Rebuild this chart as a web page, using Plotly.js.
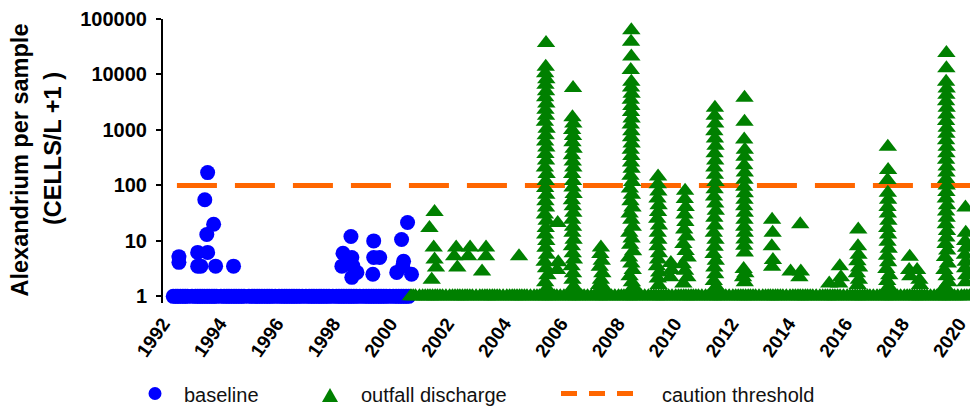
<!DOCTYPE html>
<html>
<head>
<meta charset="utf-8">
<script src="https://cdn.plot.ly/plotly-3.0.1.min.js"></script>
<style>html,body{margin:0;padding:0;background:#fff;}#chart{width:970px;height:408px;}</style>
</head>
<body>
<div id="chart"></div>
<script>
// ---------- tick labels ----------
const xTickYears = [1992, 1994, 1996, 1998, 2000, 2002, 2004, 2006, 2008, 2010, 2012, 2014, 2016, 2018, 2020];
const xTickText = ['1992', '1994', '1996', '1998', '2000', '2002', '2004', '2006', '2008', '2010', '2012', '2014', '2016', '2018', '2020'];
const yTickVals = [1, 10, 100, 1000, 10000, 100000];
const yTickText = ['1', '10', '100', '1000', '10000', '100000'];

// ---------- baseline (1992-2000) ----------
const baselineNonDetectDates = [1992.36, 1992.45, 1992.52, 1992.61, 1992.70, 1992.78, 1992.86, 1993.02, 1993.14, 1993.22, 1993.30, 1993.38, 1993.46, 1993.55, 1993.63, 1993.72, 1993.80, 1993.88, 1994.04, 1994.15, 1994.24, 1994.32, 1994.41, 1994.50, 1994.58, 1994.67, 1994.76, 1994.85, 1995.02, 1995.13, 1995.22, 1995.31, 1995.39, 1995.48, 1995.57, 1995.66, 1995.74, 1995.83, 1995.95, 1996.08, 1996.18, 1996.27, 1996.35, 1996.44, 1996.53, 1996.61, 1996.70, 1996.79, 1996.90, 1997.03, 1997.14, 1997.23, 1997.31, 1997.40, 1997.49, 1997.57, 1997.66, 1997.75, 1997.84, 1997.97, 1998.10, 1998.19, 1998.28, 1998.36, 1998.45, 1998.54, 1998.62, 1998.71, 1998.80, 1998.92, 1999.05, 1999.15, 1999.24, 1999.33, 1999.41, 1999.50, 1999.59, 1999.67, 1999.76, 1999.85, 1999.97, 2000.10, 2000.20, 2000.29, 2000.38, 2000.46, 2000.55, 2000.64];
const baselineDetectDates = [1992.56, 1992.56, 1993.22, 1993.22, 1993.33, 1993.47, 1993.54, 1993.57, 1993.57, 1993.78, 1993.85, 1994.48, 1998.29, 1998.33, 1998.61, 1998.64, 1998.68, 1998.64, 1998.82, 1999.38, 1999.41, 1999.41, 1999.62, 2000.22, 2000.39, 2000.43, 2000.46, 2000.60, 2000.74];
const baselineDetectValues = [5.2, 4.1, 6.2, 3.5, 3.5, 55, 13, 170, 6.2, 20, 3.5, 3.5, 3.5, 6, 12, 5, 3.5, 2.2, 2.7, 2.5, 10, 5, 5, 2.7, 10.6, 3.5, 4.3, 21.5, 2.5];

// ---------- outfall discharge (2000-2020) ----------
const outfallNonDetectDates = [2000.72, 2000.80, 2000.88, 2001.02, 2001.13, 2001.22, 2001.31, 2001.39, 2001.48, 2001.57, 2001.65, 2001.74, 2001.83, 2001.95, 2002.08, 2002.18, 2002.27, 2002.36, 2002.44, 2002.53, 2002.62, 2002.70, 2002.79, 2002.88, 2003.01, 2003.14, 2003.23, 2003.32, 2003.40, 2003.49, 2003.58, 2003.66, 2003.75, 2003.84, 2003.96, 2004.09, 2004.19, 2004.28, 2004.36, 2004.45, 2004.54, 2004.62, 2004.71, 2004.80, 2004.92, 2005.05, 2005.15, 2005.24, 2005.33, 2005.41, 2005.50, 2005.59, 2005.67, 2005.76, 2005.85, 2005.97, 2006.10, 2006.20, 2006.29, 2006.37, 2006.46, 2006.55, 2006.63, 2006.72, 2006.81, 2006.93, 2007.06, 2007.16, 2007.25, 2007.33, 2007.42, 2007.51, 2007.59, 2007.68, 2007.77, 2007.89, 2008.02, 2008.12, 2008.21, 2008.30, 2008.38, 2008.47, 2008.56, 2008.64, 2008.73, 2008.82, 2008.94, 2009.07, 2009.17, 2009.26, 2009.34, 2009.43, 2009.52, 2009.60, 2009.69, 2009.78, 2009.90, 2010.03, 2010.13, 2010.22, 2010.31, 2010.39, 2010.48, 2010.57, 2010.65, 2010.74, 2010.83, 2010.95, 2011.08, 2011.18, 2011.27, 2011.35, 2011.44, 2011.53, 2011.61, 2011.70, 2011.79, 2011.91, 2012.04, 2012.14, 2012.23, 2012.32, 2012.40, 2012.49, 2012.58, 2012.66, 2012.75, 2012.84, 2012.96, 2013.09, 2013.19, 2013.28, 2013.36, 2013.45, 2013.54, 2013.62, 2013.71, 2013.80, 2013.92, 2014.05, 2014.15, 2014.24, 2014.33, 2014.41, 2014.50, 2014.59, 2014.67, 2014.76, 2014.85, 2014.97, 2015.10, 2015.20, 2015.29, 2015.37, 2015.46, 2015.55, 2015.63, 2015.72, 2015.81, 2015.93, 2016.06, 2016.16, 2016.25, 2016.34, 2016.42, 2016.51, 2016.60, 2016.68, 2016.77, 2016.86, 2016.98, 2017.11, 2017.21, 2017.30, 2017.38, 2017.47, 2017.56, 2017.64, 2017.73, 2017.82, 2017.94, 2018.07, 2018.17, 2018.26, 2018.35, 2018.43, 2018.52, 2018.61, 2018.69, 2018.78, 2018.87, 2018.99, 2019.12, 2019.22, 2019.31, 2019.39, 2019.48, 2019.57, 2019.65, 2019.74, 2019.83, 2019.95, 2020.08, 2020.18, 2020.27, 2020.36];

const bloom2001Dates = [2001.37, 2001.55, 2001.52, 2001.55, 2001.60, 2001.45];
const bloom2001Values = [17, 33, 7.6, 4.6, 3.3, 2.0];
const bloom2002Dates = [2002.31, 2002.24, 2002.35, 2002.80, 2002.73, 2003.22, 2003.36, 2003.36, 2004.52];
const bloom2002Values = [7.6, 5.3, 3.3, 7.6, 5.3, 2.8, 7.6, 5.3, 5.3];
const bloom2005Dates = [2005.47, 2005.46, 2005.44, 2005.48, 2005.45, 2005.47, 2005.44, 2005.48, 2005.45, 2005.47, 2005.43, 2005.49, 2005.46, 2005.44, 2005.48, 2005.45, 2005.47, 2005.43, 2005.49, 2005.46, 2005.44, 2005.48, 2005.45, 2005.47, 2005.43, 2005.49, 2005.46, 2005.44, 2005.48, 2005.45, 2005.50, 2005.42, 2005.47, 2005.52, 2005.44, 2005.50, 2005.88, 2005.90, 2005.86];
const bloom2005Values = [37000, 13800, 10500, 8200, 6500, 5000, 3900, 3000, 2300, 1800, 1400, 1050, 800, 620, 480, 370, 280, 210, 160, 120, 90, 68, 52, 40, 30, 23, 17, 13, 10, 7.5, 5.6, 4.2, 3.2, 2.4, 1.8, 1.4, 21, 4.1, 3.0];
const bloom2006Dates = [2006.42, 2006.40, 2006.43, 2006.39, 2006.42, 2006.40, 2006.44, 2006.38, 2006.41, 2006.43, 2006.39, 2006.42, 2006.40, 2006.44, 2006.38, 2006.41, 2006.43, 2006.39, 2006.42, 2006.40, 2006.44, 2006.38, 2006.41, 2006.45, 2006.37, 2006.42, 2006.40, 2006.44];
const bloom2006Values = [5700, 1700, 1300, 1000, 780, 600, 460, 350, 270, 210, 160, 120, 92, 70, 54, 42, 32, 24, 18, 14, 10.5, 8, 6, 4.6, 3.5, 2.6, 2.0, 1.5];
const bloom2007Dates = [2007.40, 2007.38, 2007.43, 2007.36, 2007.45, 2007.40, 2007.34, 2007.47];
const bloom2007Values = [7.6, 5.8, 4.4, 3.4, 2.6, 2.0, 1.6, 1.5];
const bloom2008Dates = [2008.47, 2008.46, 2008.47, 2008.45, 2008.47, 2008.46, 2008.48, 2008.45, 2008.47, 2008.46, 2008.48, 2008.45, 2008.47, 2008.46, 2008.48, 2008.45, 2008.47, 2008.46, 2008.48, 2008.44, 2008.50, 2008.42, 2008.49, 2008.44, 2008.51, 2008.41, 2008.47, 2008.52, 2008.40, 2008.48, 2008.43, 2008.53, 2008.39, 2008.47, 2008.52, 2008.41, 2008.49, 2008.55];
const bloom2008Values = [63000, 39000, 21000, 12000, 7400, 5800, 4500, 3500, 2700, 2100, 1600, 1250, 950, 740, 570, 440, 340, 260, 200, 150, 115, 88, 68, 52, 40, 31, 24, 18, 14, 11, 8.5, 6.5, 5, 3.9, 3, 2.3, 1.8, 1.5];
const bloom2009Dates = [2009.41, 2009.40, 2009.42, 2009.39, 2009.43, 2009.41, 2009.38, 2009.44, 2009.40, 2009.42, 2009.39, 2009.44, 2009.41, 2009.37, 2009.45, 2009.40, 2009.43, 2009.86, 2009.88, 2009.84];
const bloom2009Values = [145, 105, 78, 58, 44, 33, 25, 19, 14, 10.5, 8, 6, 4.6, 3.5, 2.7, 2.1, 1.6, 4.0, 3.0, 2.2];
const bloom2010Dates = [2010.36, 2010.35, 2010.38, 2010.34, 2010.37, 2010.33, 2010.40, 2010.30, 2010.38, 2010.45, 2010.28, 2010.36, 2010.44, 2010.30];
const bloom2010Values = [80, 57, 41, 30, 22, 16, 12, 8.8, 6.6, 5.0, 3.8, 2.9, 2.2, 1.7];
const bloom2011Dates = [2011.41, 2011.40, 2011.42, 2011.39, 2011.41, 2011.43, 2011.40, 2011.42, 2011.39, 2011.41, 2011.43, 2011.40, 2011.38, 2011.42, 2011.44, 2011.39, 2011.41, 2011.37, 2011.43, 2011.40, 2011.36, 2011.44, 2011.39, 2011.42, 2011.37, 2011.45];
const bloom2011Values = [2500, 1800, 1300, 950, 700, 520, 380, 280, 210, 155, 115, 85, 63, 47, 35, 26, 19, 14, 10.5, 7.8, 5.8, 4.4, 3.3, 2.5, 1.9, 1.5];
const bloom2012Dates = [2012.45, 2012.45, 2012.44, 2012.46, 2012.45, 2012.44, 2012.46, 2012.45, 2012.44, 2012.46, 2012.45, 2012.44, 2012.46, 2012.45, 2012.44, 2012.46, 2012.45, 2012.44, 2012.46, 2012.42, 2012.48, 2012.40, 2012.46];
const bloom2012Values = [3800, 1400, 670, 440, 330, 230, 170, 126, 95, 72, 55, 42, 32, 24, 18, 14, 10.6, 8.2, 6.2, 3.1, 2.6, 2.2, 1.8];
const bloom2013Dates = [2013.42, 2013.44, 2013.41, 2013.45, 2013.42, 2014.07, 2014.41, 2014.43, 2014.38, 2015.43, 2015.80, 2015.84, 2015.78];
const bloom2013Values = [24, 14, 8, 4.5, 3.4, 2.8, 20, 2.8, 2.2, 1.7, 3.5, 2.2, 1.7];
const bloom2016Dates = [2016.45, 2016.44, 2016.46, 2016.42, 2016.48, 2016.40, 2016.47, 2016.43];
const bloom2016Values = [16, 8, 5.6, 4.3, 3.3, 2.6, 2.0, 1.6];
const bloom2017Dates = [2017.49, 2017.50, 2017.48, 2017.49, 2017.50, 2017.48, 2017.49, 2017.51, 2017.47, 2017.50, 2017.48, 2017.52, 2017.46, 2017.50, 2017.44, 2017.54, 2017.47, 2017.52];
const bloom2017Values = [500, 190, 125, 74, 55, 41, 31, 23, 17, 13, 9.6, 7.2, 5.4, 4.1, 3.1, 2.4, 1.9, 1.5];
const bloom2018Dates = [2018.26, 2018.24, 2018.28, 2018.52, 2018.60, 2018.62];
const bloom2018Values = [5.2, 3.0, 2.3, 3.0, 2.0, 1.6];
const bloom2019Dates = [2019.55, 2019.55, 2019.54, 2019.56, 2019.55, 2019.54, 2019.56, 2019.55, 2019.54, 2019.56, 2019.55, 2019.54, 2019.56, 2019.55, 2019.54, 2019.56, 2019.55, 2019.54, 2019.56, 2019.55, 2019.53, 2019.57, 2019.54, 2019.56, 2019.53, 2019.57, 2019.55, 2019.52, 2019.58, 2019.50, 2019.60, 2019.48, 2019.56, 2019.62, 2019.50];
const bloom2019Values = [24500, 13000, 7400, 5600, 4300, 3300, 2500, 1900, 1450, 1100, 850, 650, 500, 380, 290, 220, 170, 130, 100, 76, 58, 44, 34, 26, 20, 15, 11.5, 8.8, 6.7, 5.1, 3.9, 3.0, 2.3, 1.8, 1.5];
const bloom2020Dates = [2020.22, 2020.23, 2020.21, 2020.24, 2020.20, 2020.23, 2020.21, 2020.25, 2020.22];
const bloom2020Values = [40, 14, 10, 7.5, 5.6, 4.2, 3.2, 2.4, 1.8];

// ---------- caution threshold ----------
const thresholdDates = [1992.49, 2020.5];
const thresholdValues = [100, 100];

// samples with no cells counted plot at 0 + 1 = 1
const NON_DETECT = 1;

const outfallDetectDates = [].concat(bloom2001Dates, bloom2002Dates, bloom2005Dates, bloom2006Dates, bloom2007Dates, bloom2008Dates, bloom2009Dates, bloom2010Dates, bloom2011Dates, bloom2012Dates, bloom2013Dates, bloom2016Dates, bloom2017Dates, bloom2018Dates, bloom2019Dates, bloom2020Dates);
const outfallDetectValues = [].concat(bloom2001Values, bloom2002Values, bloom2005Values, bloom2006Values, bloom2007Values, bloom2008Values, bloom2009Values, bloom2010Values, bloom2011Values, bloom2012Values, bloom2013Values, bloom2016Values, bloom2017Values, bloom2018Values, bloom2019Values, bloom2020Values);

const BLUE = '#0000FF', GREEN = '#008000', ORANGE = '#FF6600';
const FONT = 'Liberation Sans, Arial, Helvetica, sans-serif';

const traces = [
  {x: thresholdDates, y: thresholdValues, mode: 'lines', name: 'caution threshold',
   line: {color: ORANGE, width: 5, dash: '40px,18px'}, hoverinfo: 'skip'},
  {x: baselineNonDetectDates, y: baselineNonDetectDates.map(() => NON_DETECT), mode: 'markers', name: 'baseline',
   marker: {symbol: 'circle', size: 15, color: BLUE}, cliponaxis: false},
  {x: baselineDetectDates, y: baselineDetectValues, mode: 'markers', name: 'baseline',
   marker: {symbol: 'circle', size: 15, color: BLUE}, cliponaxis: false},
  {x: outfallNonDetectDates, y: outfallNonDetectDates.map(() => NON_DETECT), mode: 'markers', name: 'outfall discharge',
   marker: {symbol: 'triangle-up', size: 16, color: GREEN}, cliponaxis: false},
  {x: outfallDetectDates, y: outfallDetectValues, mode: 'markers', name: 'outfall discharge',
   marker: {symbol: 'triangle-up', size: 16, color: GREEN}, cliponaxis: false}
];

// pixel helpers relative to plot area (left = 163, bottom = 303)
const PL = 163, PB = 303;
function dx(px) { return px - PL; }
function dy(py) { return PB - py; }

const legendFont = {family: FONT, size: 20, color: '#111'};
const titleFont = {family: FONT, size: 23.5, color: '#000', weight: 'bold'};

const layout = {
  width: 970, height: 408,
  margin: {l: 163, r: 0, t: 19, b: 105, pad: 0},
  paper_bgcolor: '#fff', plot_bgcolor: '#fff',
  showlegend: false,
  xaxis: {
    range: [1992, 2020.38], tickmode: 'array', tickvals: xTickYears, ticktext: xTickText,
    tickangle: -55, ticks: '', showgrid: false, zeroline: false, showline: false,
    ticklabeloverflow: 'allow',
    tickfont: {family: FONT, size: 19, color: '#000', weight: 'bold'}, ticklabelstandoff: 5
  },
  yaxis: {
    type: 'log', range: [-0.12, 5], tickmode: 'array', tickvals: yTickVals, ticktext: yTickText,
    ticks: 'outside', ticklen: 5, tickwidth: 2, tickcolor: '#000',
    showline: true, linewidth: 2, linecolor: '#000', showgrid: false, zeroline: false,
    tickfont: {family: FONT, size: 20, color: '#000', weight: 'bold'}, ticklabelstandoff: 5
  },
  shapes: [
    // x axis line crossing at 1 (hidden under markers)
    {type: 'line', xref: 'paper', yref: 'y', x0: 0, x1: 1, y0: 0, y1: 0, layer: 'below', line: {color: '#000', width: 2}},
    // legend symbols
    {type: 'circle', xref: 'paper', yref: 'paper', xsizemode: 'pixel', ysizemode: 'pixel', xanchor: 0, yanchor: 0,
     x0: dx(148.5), x1: dx(161.5), y0: dy(400), y1: dy(387), fillcolor: BLUE, line: {width: 0}},
    {type: 'path', xref: 'paper', yref: 'paper', xsizemode: 'pixel', ysizemode: 'pixel', xanchor: 0, yanchor: 0,
     path: 'M' + dx(322) + ',' + dy(402) + ' L' + dx(338) + ',' + dy(402) + ' L' + dx(330) + ',' + dy(388) + ' Z',
     fillcolor: GREEN, line: {width: 0}},
    {type: 'rect', xref: 'paper', yref: 'paper', xsizemode: 'pixel', ysizemode: 'pixel', xanchor: 0, yanchor: 0,
     x0: dx(561), x1: dx(577), y0: dy(396), y1: dy(391), fillcolor: ORANGE, line: {width: 0}},
    {type: 'rect', xref: 'paper', yref: 'paper', xsizemode: 'pixel', ysizemode: 'pixel', xanchor: 0, yanchor: 0,
     x0: dx(589), x1: dx(605), y0: dy(396), y1: dy(391), fillcolor: ORANGE, line: {width: 0}},
    {type: 'rect', xref: 'paper', yref: 'paper', xsizemode: 'pixel', ysizemode: 'pixel', xanchor: 0, yanchor: 0,
     x0: dx(617), x1: dx(633), y0: dy(396), y1: dy(391), fillcolor: ORANGE, line: {width: 0}}
  ],
  annotations: [
    {text: 'Alexandrium per sample', textangle: -90, xref: 'paper', yref: 'paper', x: 0, y: 0,
     xshift: dx(19.5), yshift: dy(160), xanchor: 'center', yanchor: 'middle', showarrow: false, font: titleFont},
    {text: '(CELLS/L +1 )', textangle: -90, xref: 'paper', yref: 'paper', x: 0, y: 0,
     xshift: dx(53), yshift: dy(149), xanchor: 'center', yanchor: 'middle', showarrow: false, font: titleFont},
    {text: 'baseline', xref: 'paper', yref: 'paper', x: 0, y: 0, xshift: dx(182), yshift: dy(395),
     xanchor: 'left', yanchor: 'middle', showarrow: false, font: legendFont},
    {text: 'outfall discharge', xref: 'paper', yref: 'paper', x: 0, y: 0, xshift: dx(359), yshift: dy(395),
     xanchor: 'left', yanchor: 'middle', showarrow: false, font: legendFont},
    {text: 'caution threshold', xref: 'paper', yref: 'paper', x: 0, y: 0, xshift: dx(660), yshift: dy(395),
     xanchor: 'left', yanchor: 'middle', showarrow: false, font: legendFont}
  ]
};

Plotly.newPlot('chart', traces, layout, {displayModeBar: false, staticPlot: true});
</script>
</body>
</html>
